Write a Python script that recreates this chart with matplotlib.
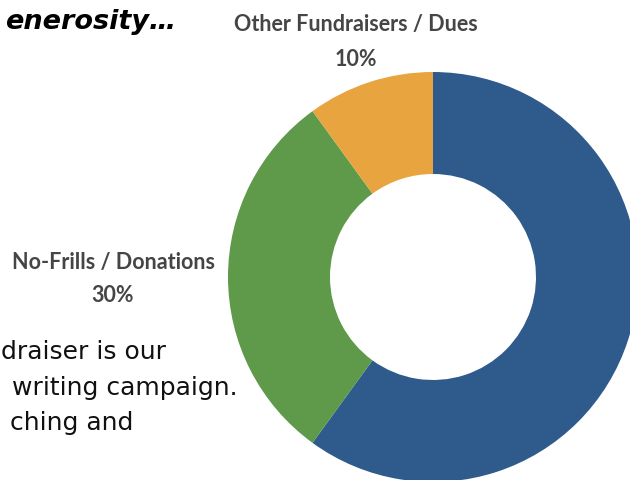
import matplotlib.pyplot as plt

# donut data
categories = ['Dinner', 'No-Frills / Donations', 'Other Fundraisers / Dues']
shares = [60, 30, 10]
colors = ['#2E5A8C', '#5E9A4A', '#E8A43E']

fig = plt.figure(figsize=(6.3, 4.81), dpi=100)
ax = fig.add_axes([0, 0, 1, 1])
ax.axis('off')

ax.pie(shares, colors=colors, startangle=90, counterclock=False,
       center=(433, 481 - 278), radius=205,
       wedgeprops=dict(width=102, edgecolor='none'))
ax.set_xlim(0, 630)
ax.set_ylim(0, 481)
ax.set_aspect('equal')

lab = dict(color='#454545', fontsize=15.5, fontweight='bold',
           ha='center', va='center', family='Lato')
ax.text(356, 481 - 25, categories[2], **lab)
ax.text(356, 481 - 60, f'{shares[2]}%', **lab)
ax.text(113, 481 - 262, categories[1], **lab)
ax.text(113, 481 - 295, f'{shares[1]}%', **lab)

# slide text, clipped by the crop
ax.text(176, 481 - 22, 'enerosity…', fontsize=19.5, fontweight='bold', style='italic',
        ha='right', va='center', family='DejaVu Sans')
body = dict(fontsize=18, ha='right', va='center', family='DejaVu Sans', color='#111111')
ax.text(166, 481 - 352, 'draiser is our', **body)
ax.text(238, 481 - 388, 'writing campaign.', **body)
ax.text(133, 481 - 423, 'ching and', **body)

fig.savefig('out.png', dpi=100)
